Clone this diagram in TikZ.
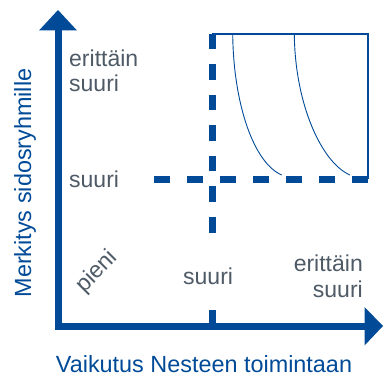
\documentclass[tikz,border=0pt]{standalone}
\usepackage{fontspec}
\setmainfont{Liberation Sans}
\definecolor{nblue}{HTML}{004A97}
\definecolor{ngray}{HTML}{4E5A66}
\begin{document}
\begin{tikzpicture}[x=1pt,y=-1pt,
  lbl/.style={text=ngray,font=\fontsize{23}{26}\selectfont,inner sep=0pt},
  ttl/.style={text=nblue,font=\fontsize{23.4}{26}\selectfont,inner sep=0pt},
  axis/.style={draw=nblue,line width=7pt,line join=miter},
  dsh/.style={draw=nblue,line width=7pt,dash pattern=on 15.5pt off 15pt},
  dshh/.style={draw=nblue,line width=7pt,dash pattern=on 16pt off 17pt},
  thin/.style={draw=nblue,line width=1.2pt},
  crv/.style={draw=nblue,line width=0.9pt}]
\useasboundingbox (0,0) rectangle (383,377);
% region
\draw[thin] (212,34) -- (368,34) -- (368,179);
\draw[crv] (232.7,34) .. controls (233.5,105) and (254,163) .. (281.7,175);
\draw[crv] (294.3,34) .. controls (295,105) and (322,163) .. (350,175);
% dashed lines
\draw[dsh] (212,34) -- (212,234);
\draw[dshh] (154,179.5) -- (368,179.5);
\draw[draw=nblue,line width=7pt] (212,310) -- (212,326);
% axes
\coordinate (ytop) at (58,30);
\coordinate (org) at (58,326);
\coordinate (xend) at (365,326);
\draw[axis] (ytop) -- (org) -- (xend);
\fill[nblue] (58,10) -- (77,30.5) -- (39,30.5) -- cycle;
\fill[nblue] (383,326) -- (364.5,307) -- (364.5,345.5) -- cycle;
% labels
\node[lbl,anchor=base west] (ye1) at (69,67) {erittäin};
\node[lbl,anchor=base west] (ye2) at (69,92) {suuri};
\node[lbl,anchor=base west] (ys) at (69,187) {suuri};
\node[lbl,anchor=base west] (xs) at (183,284) {suuri};
\node[lbl,anchor=base east] (xe1) at (363,271) {erittäin};
\node[lbl,anchor=base east] (xe2) at (363,297) {suuri};
\node[lbl,rotate=45] (pn) at (97,272) {pieni};
\node[ttl,anchor=base] (xt) at (204,372) {Vaikutus Nesteen toimintaan};
\node[ttl,rotate=90,anchor=base] (yt) at (31,183) {Merkitys sidosryhmille};
\end{tikzpicture}
\end{document}
